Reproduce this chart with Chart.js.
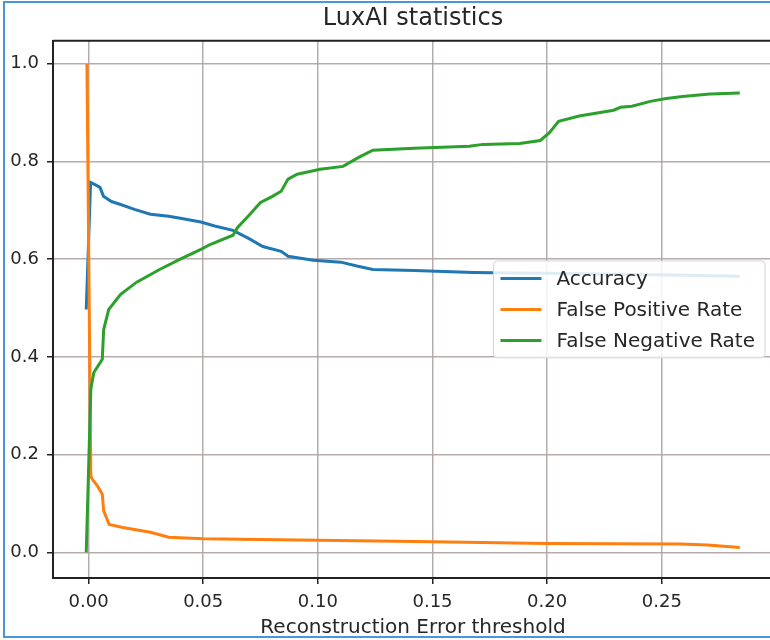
<!DOCTYPE html>
<html lang="en">
<head>
<meta charset="UTF-8">
<title>LuxAI statistics</title>
<script src="https://cdn.jsdelivr.net/npm/chart.js"></script>
<style>
    html, body { margin: 0; padding: 0; overflow: hidden; background: #fff; }
    #wrap { position: relative; width: 770px; height: 640px; overflow: hidden; }
    canvas { position: absolute; left: 0; top: 0; }
    #frame {
        position: absolute; left: 3px; top: 1px; width: 800px; height: 633px;
        border: 2px solid #4a96d6; pointer-events: none;
    }
</style>
</head>
<body>
<div id="wrap">
    <canvas id="chart" width="780" height="640"></canvas>
    <div id="frame"></div>
</div>
<script>
// values
const accX = [-0.0010, 0.0009, 0.003, 0.005, 0.0065, 0.010, 0.014, 0.020, 0.027, 0.035, 0.040, 0.049, 0.055, 0.063, 0.070, 0.076, 0.084, 0.087, 0.098, 0.110, 0.117, 0.124, 0.142, 0.168, 0.185, 0.200, 0.230, 0.260, 0.284];
const accY = [0.497, 0.757, 0.752, 0.747, 0.729, 0.718, 0.712, 0.702, 0.692, 0.688, 0.684, 0.676, 0.668, 0.659, 0.642, 0.626, 0.616, 0.606, 0.598, 0.594, 0.586, 0.579, 0.577, 0.573, 0.572, 0.571, 0.569, 0.567, 0.565];

const fprX = [-0.0007, 0.0010, 0.0016, 0.004, 0.006, 0.0066, 0.009, 0.015, 0.027, 0.035, 0.050, 0.100, 0.143, 0.200, 0.258, 0.270, 0.284];
const fprY = [1.0, 0.156, 0.150, 0.135, 0.119, 0.085, 0.057, 0.051, 0.041, 0.031, 0.028, 0.025, 0.022, 0.018, 0.017, 0.015, 0.010];

const fnrX = [-0.0010, 0.0010, 0.0023, 0.006, 0.0066, 0.0088, 0.014, 0.021, 0.031, 0.040, 0.049, 0.053, 0.063, 0.065, 0.070, 0.075, 0.080, 0.084, 0.087, 0.091, 0.101, 0.111, 0.118, 0.124, 0.142, 0.166, 0.172, 0.188, 0.197, 0.201, 0.205, 0.214, 0.229, 0.232, 0.237, 0.245, 0.252, 0.259, 0.271, 0.284];
const fnrY = [0.0, 0.334, 0.368, 0.395, 0.456, 0.497, 0.528, 0.553, 0.579, 0.600, 0.620, 0.630, 0.649, 0.665, 0.690, 0.716, 0.728, 0.739, 0.764, 0.774, 0.784, 0.790, 0.809, 0.823, 0.827, 0.831, 0.835, 0.837, 0.843, 0.859, 0.882, 0.893, 0.905, 0.911, 0.913, 0.923, 0.929, 0.933, 0.938, 0.940];

const seriesLabels = ['Accuracy', 'False Positive Rate', 'False Negative Rate'];
const xTicks = [0, 0.05, 0.10, 0.15, 0.20, 0.25];
const xTickLabels = ['0.00', '0.05', '0.10', '0.15', '0.20', '0.25'];
const yTicks = [0, 0.2, 0.4, 0.6, 0.8, 1.0];
const yTickLabels = ['0.0', '0.2', '0.4', '0.6', '0.8', '1.0'];

const toPoints = (xs, ys) => xs.map((x, i) => ({ x: x, y: ys[i] }));

Chart.defaults.font.family = 'DejaVu Sans';
Chart.defaults.color = '#262626';

const gridColor = 'rgba(175, 163, 163, 0.9)';
const inkColor = '#222';

// top spine + matplotlib style legend at "center right"
const framePlugin = {
    id: 'frame',
    afterDraw(chart) {
        const ctx = chart.ctx;
        const a = chart.chartArea;
        ctx.save();
        ctx.strokeStyle = inkColor;
        ctx.lineWidth = 2;
        ctx.beginPath();
        ctx.moveTo(a.left, a.top);
        ctx.lineTo(a.right, a.top);
        ctx.lineTo(a.right, a.bottom);
        ctx.stroke();

        ctx.font = '20px "DejaVu Sans"';
        let maxW = 0;
        chart.data.datasets.forEach(d => { maxW = Math.max(maxW, ctx.measureText(d.label).width); });
        const rowH = 31;
        const w = 7 + 41 + 15 + maxW + 10;
        const h = rowH * chart.data.datasets.length + 4;
        const x0 = a.right - 8 - w;
        const y0 = (a.top + a.bottom) / 2 - h / 2;
        ctx.beginPath();
        ctx.roundRect(x0, y0, w, h, 4);
        ctx.fillStyle = 'rgba(255,255,255,0.85)';
        ctx.fill();
        ctx.strokeStyle = '#d4d4d4';
        ctx.lineWidth = 1;
        ctx.stroke();

        chart.data.datasets.forEach((d, i) => {
            const cy = y0 + 2 + rowH * i + rowH / 2;
            ctx.strokeStyle = d.borderColor;
            ctx.lineWidth = 3;
            ctx.beginPath();
            ctx.moveTo(x0 + 7, cy);
            ctx.lineTo(x0 + 48, cy);
            ctx.stroke();
            ctx.fillStyle = '#262626';
            ctx.textBaseline = 'middle';
            ctx.textAlign = 'left';
            ctx.fillText(d.label, x0 + 63, cy + 1);
        });
        ctx.restore();
    }
};

new Chart(document.getElementById('chart'), {
    type: 'line',
    data: {
        datasets: [
            { label: seriesLabels[0], data: toPoints(accX, accY), borderColor: '#1f77b4', order: 3 },
            { label: seriesLabels[1], data: toPoints(fprX, fprY), borderColor: '#ff7f0e', order: 2 },
            { label: seriesLabels[2], data: toPoints(fnrX, fnrY), borderColor: '#2ca02c', order: 1 }
        ]
    },
    options: {
        responsive: false,
        animation: false,
        layout: { padding: { left: 0, right: 7, top: 0, bottom: 0 } },
        elements: {
            line: { borderWidth: 3, tension: 0, fill: false },
            point: { radius: 0 }
        },
        plugins: {
            legend: { display: false },
            tooltip: { enabled: false },
            title: {
                display: true,
                text: 'LuxAI statistics',
                fullSize: false,
                color: '#262626',
                font: { size: 24, weight: 'normal' },
                padding: { top: 4, bottom: 8 }
            }
        },
        scales: {
            x: {
                type: 'linear',
                min: -0.0155,
                max: 0.2985,
                afterBuildTicks: s => { s.ticks = xTicks.map(v => ({ value: v })); },
                afterFit: s => { s.height = 62; },
                ticks: {
                    callback: (v, i) => xTickLabels[i],
                    font: { size: 18 },
                    padding: 8,
                    maxRotation: 0,
                    autoSkip: false
                },
                grid: { color: gridColor, lineWidth: 1.5, tickColor: inkColor, tickLength: 6, tickWidth: 1.5 },
                border: { color: inkColor, width: 2 },
                title: {
                    display: true,
                    text: 'Reconstruction Error threshold',
                    font: { size: 20 },
                    padding: { top: 0, bottom: 0 }
                }
            },
            y: {
                type: 'linear',
                min: -0.0525,
                max: 1.047,
                afterBuildTicks: s => { s.ticks = yTicks.map(v => ({ value: v })); },
                afterFit: s => { s.width = 53; },
                ticks: {
                    callback: (v, i) => yTickLabels[i],
                    font: { size: 18 },
                    padding: 8,
                    autoSkip: false
                },
                grid: { color: gridColor, lineWidth: 1.5, tickColor: inkColor, tickLength: 6, tickWidth: 1.5 },
                border: { color: inkColor, width: 2 }
            }
        }
    },
    plugins: [framePlugin]
});
</script>
</body>
</html>
